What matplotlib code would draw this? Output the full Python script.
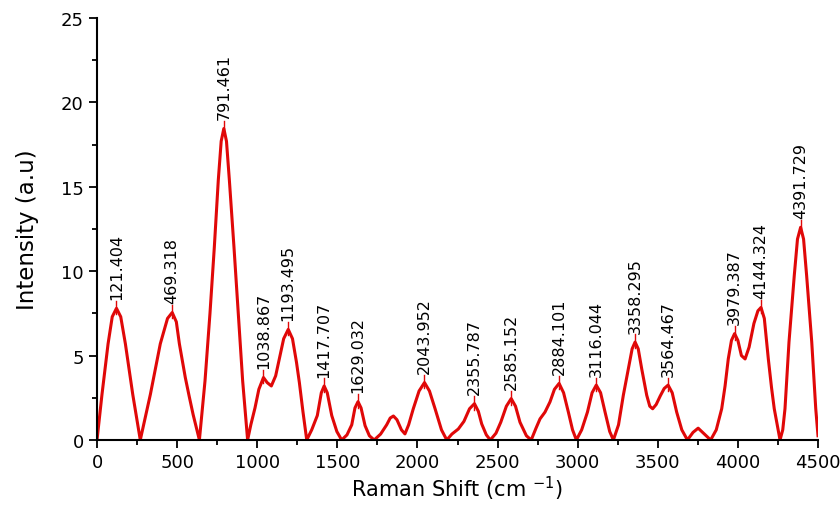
# Raman spectrum with labelled peak positions
import numpy as np
from matplotlib import pyplot as plt
from matplotlib.ticker import MultipleLocator

# peak positions (cm-1) and peak intensities
peak_pos = [121.404, 469.318, 791.461, 1038.867, 1193.495, 1417.707, 1629.032,
            2043.952, 2355.787, 2585.152, 2884.101, 3116.044, 3358.295,
            3564.467, 3979.387, 4144.324, 4391.729]
peak_int = [7.8, 7.55, 18.45, 3.7, 6.55, 3.2, 2.27,
            3.4, 2.15, 2.45, 3.35, 3.25, 5.8,
            3.25, 6.3, 7.85, 12.6]

# the rest of the measured curve between the peaks
shift = [0, 31, 69, 95, 148, 177, 223, 270,
         333, 395, 440, 495, 514, 551, 575, 600, 639,
         674, 705, 732, 757, 775, 808, 826, 855, 882, 909, 940,
         960, 986, 1010, 1062, 1088, 1115, 1138, 1165, 1220, 1245, 1263, 1285, 1309,
         1340, 1375, 1400, 1437, 1465, 1497, 1527,
         1560, 1590, 1610, 1648, 1673, 1700, 1730,
         1770, 1808, 1830, 1850, 1872, 1900, 1922, 1945, 1974, 2010,
         2075, 2110, 2150, 2183,
         2215, 2255, 2290, 2325, 2380, 2401, 2430, 2455,
         2490, 2520, 2555, 2612, 2640, 2680, 2710,
         2740, 2765, 2796, 2827, 2855, 2912, 2942, 2968, 2992,
         3025, 3061, 3090, 3143, 3171, 3200, 3223,
         3255, 3285, 3316, 3340, 3378, 3400, 3431, 3450, 3468, 3490,
         3515, 3540, 3590, 3618, 3650, 3685, 3720, 3752, 3785, 3830,
         3865, 3899, 3920, 3940, 3960, 4000, 4022, 4045, 4070, 4100, 4125,
         4165, 4190, 4210, 4227, 4263,
         4280, 4294, 4319, 4352, 4372, 4410, 4429, 4461, 4486, 4500]
intensity = [0, 2.7, 5.7, 7.3, 7.3, 5.7, 2.7, 0,
             2.7, 5.7, 7.2, 7.0, 5.7, 3.7, 2.6, 1.5, 0,
             3.5, 7.5, 11.4, 15.4, 17.7, 17.7, 15.4, 11.4, 7.5, 3.5, 0,
             0.9, 1.9, 3.0, 3.4, 3.2, 3.8, 4.8, 6.0, 6.0, 4.6, 3.4, 1.7, 0,
             0.6, 1.45, 2.8, 2.8, 1.45, 0.5, 0,
             0.3, 0.9, 1.9, 1.9, 0.85, 0.25, 0,
             0.35, 0.9, 1.3, 1.42, 1.2, 0.6, 0.36, 0.9, 1.85, 2.9,
             2.9, 1.85, 0.6, 0,
             0.35, 0.65, 1.1, 1.85, 1.7, 0.95, 0.3, 0,
             0.4, 1.05, 2.0, 2.0, 1.05, 0.25, 0,
             0.7, 1.25, 1.65, 2.25, 3.0, 2.8, 1.65, 0.6, 0,
             0.6, 1.65, 2.8, 2.8, 1.65, 0.5, 0,
             0.9, 2.65, 4.2, 5.4, 5.4, 4.2, 2.65, 2.0, 1.85, 2.1,
             2.6, 3.05, 2.8, 1.65, 0.6, 0, 0.45, 0.7, 0.4, 0,
             0.6, 1.85, 3.2, 4.8, 5.9, 5.9, 5.0, 4.8, 5.5, 6.9, 7.65,
             7.2, 4.8, 3.1, 1.85, 0,
             0.6, 1.85, 5.8, 9.75, 11.9, 11.9, 9.75, 5.8, 1.85, 0.25]

x_ticks = [0, 500, 1000, 1500, 2000, 2500, 3000, 3500, 4000, 4500]
y_ticks = [0, 5, 10, 15, 20, 25]

red = '#e00808'

# join the peak tops into the curve
x = np.array(shift + peak_pos, dtype=float)
y = np.array(intensity + peak_int, dtype=float)
order = np.argsort(x)
x, y = x[order], y[order]

fig = plt.figure(figsize=(8.4, 5.06), dpi=100)
ax = fig.add_axes([0.1155, 0.1285, 0.8583, 0.834])
ax.plot(x, y, color=red, lw=2.2, solid_joinstyle='round')

for p, h in zip(peak_pos, peak_int):
    ax.plot([p, p], [h - 0.35, h + 0.45], color=red, lw=1.0)
    ax.text(p, h + 0.55, '%.3f' % p, rotation=90, ha='center', va='bottom',
            fontsize=11.5, color='black')

ax.set_xlim(0, 4500)
ax.set_ylim(0, 25)
ax.set_xticks(x_ticks)
ax.set_yticks(y_ticks)
ax.xaxis.set_minor_locator(MultipleLocator(250))
ax.yaxis.set_minor_locator(MultipleLocator(2.5))
ax.tick_params(which='major', direction='out', length=6, width=1.3, labelsize=13)
ax.tick_params(which='minor', direction='out', length=3.5, width=1.3)
for s in ['top', 'right']:
    ax.spines[s].set_visible(False)
for s in ['left', 'bottom']:
    ax.spines[s].set_linewidth(1.5)

ax.set_xlabel('Raman Shift (cm $^{-1}$)', fontsize=15, labelpad=2)
ax.set_ylabel('Intensity (a.u)', fontsize=16.5, labelpad=16)

plt.savefig('out.png', dpi=100)
